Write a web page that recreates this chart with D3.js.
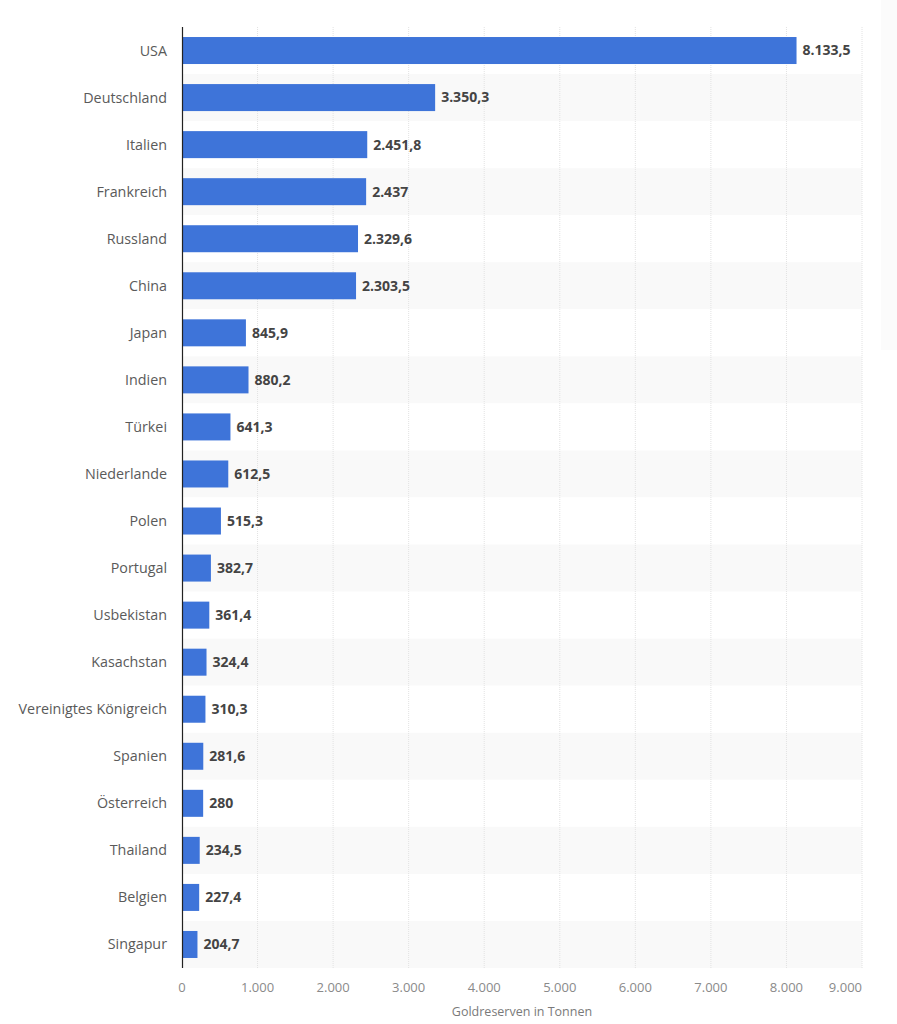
<!DOCTYPE html>
<html>
<head>
<meta charset="utf-8">
<script src="https://cdn.jsdelivr.net/npm/d3@7"></script>
<style>
  body { margin: 0; background: #fff; }
  svg { display: block; font-family: "Open Sans", sans-serif; }
</style>
</head>
<body>
<svg id="chart" width="897" height="1024"></svg>
<script>
var countries = ["USA", "Deutschland", "Italien", "Frankreich", "Russland", "China", "Japan", "Indien",
    "Türkei", "Niederlande", "Polen", "Portugal", "Usbekistan", "Kasachstan", "Vereinigtes Königreich",
    "Spanien", "Österreich", "Thailand", "Belgien", "Singapur"];
var tonnes = [8133.5, 3350.3, 2451.8, 2437, 2329.6, 2303.5, 845.9, 880.2, 641.3, 612.5, 515.3, 382.7,
    361.4, 324.4, 310.3, 281.6, 280, 234.5, 227.4, 204.7];
var ticks = [0, 1000, 2000, 3000, 4000, 5000, 6000, 7000, 8000, 9000];
var axisTitle = "Goldreserven in Tonnen";

var svg = d3.select("#chart");

// note: "top" is taken by window.top, so plain names here
var plotLeft = 182, plotRight = 862, plotTop = 27, plotBottom = 968;

var de = d3.formatLocale({ decimal: ",", thousands: ".", grouping: [3], currency: ["", " €"] });
var fmt = de.format(",");

var x = d3.scaleLinear().domain([0, 9000]).range([plotLeft, plotRight]);
var y = d3.scaleBand().domain(countries).range([plotTop, plotBottom]).paddingInner(0).paddingOuter(0);

// faint panel shadow on the right
svg.append("rect")
    .attr("x", 881).attr("y", 0)
    .attr("width", 16).attr("height", 350)
    .attr("fill", "#fbfbfb");

// zebra rows
svg.append("g")
    .selectAll("rect")
    .data(countries)
    .join("rect")
    .attr("x", plotLeft)
    .attr("y", d => y(d))
    .attr("width", plotRight - plotLeft)
    .attr("height", y.bandwidth())
    .attr("fill", (d, i) => i % 2 == 1 ? "#f9f9f9" : "#ffffff");

// grid lines
svg.append("g")
    .selectAll("line")
    .data(ticks.slice(1))
    .join("line")
    .attr("x1", d => x(d)).attr("x2", d => x(d))
    .attr("y1", plotTop).attr("y2", plotBottom)
    .attr("stroke", "#e2e2e2")
    .attr("stroke-width", 1)
    .attr("stroke-dasharray", "1,1");

// bars
var barH = 27;
svg.append("g")
    .selectAll("rect")
    .data(countries)
    .join("rect")
    .attr("x", plotLeft)
    .attr("y", d => y(d) + (y.bandwidth() - barH) / 2)
    .attr("width", (d, i) => x(tonnes[i]) - plotLeft)
    .attr("height", barH)
    .attr("fill", "#3e74d9");

// value labels
svg.append("g")
    .selectAll("text")
    .data(countries)
    .join("text")
    .attr("x", (d, i) => x(tonnes[i]) + 6)
    .attr("y", d => y(d) + y.bandwidth() / 2)
    .attr("dy", "0.35em")
    .style("font-size", "14px")
    .style("font-weight", 700)
    .style("fill", "#444")
    .text((d, i) => fmt(tonnes[i]));

// category labels
svg.append("g")
    .selectAll("text")
    .data(countries)
    .join("text")
    .attr("x", plotLeft - 15)
    .attr("y", d => y(d) + y.bandwidth() / 2)
    .attr("dy", "0.35em")
    .attr("text-anchor", "end")
    .style("font-size", "14.3px")
    .style("fill", "#5a5a5a")
    .text(d => d);

// y axis line
svg.append("line")
    .attr("x1", plotLeft + 0.5).attr("x2", plotLeft + 0.5)
    .attr("y1", plotTop).attr("y2", plotBottom)
    .attr("stroke", "#222")
    .attr("stroke-width", 1.2);

// x tick labels
svg.append("g")
    .selectAll("text")
    .data(ticks)
    .join("text")
    .attr("x", d => x(d))
    .attr("y", 992)
    .attr("text-anchor", (d, i) => i == ticks.length - 1 ? "end" : "middle")
    .style("font-size", "13px")
    .style("fill", "#8a8a8a")
    .text(d => fmt(d));

// axis title
svg.append("text")
    .attr("x", (plotLeft + plotRight) / 2)
    .attr("y", 1016)
    .attr("text-anchor", "middle")
    .style("font-size", "12.5px")
    .style("fill", "#7a7a7a")
    .text(axisTitle);
</script>
</body>
</html>
